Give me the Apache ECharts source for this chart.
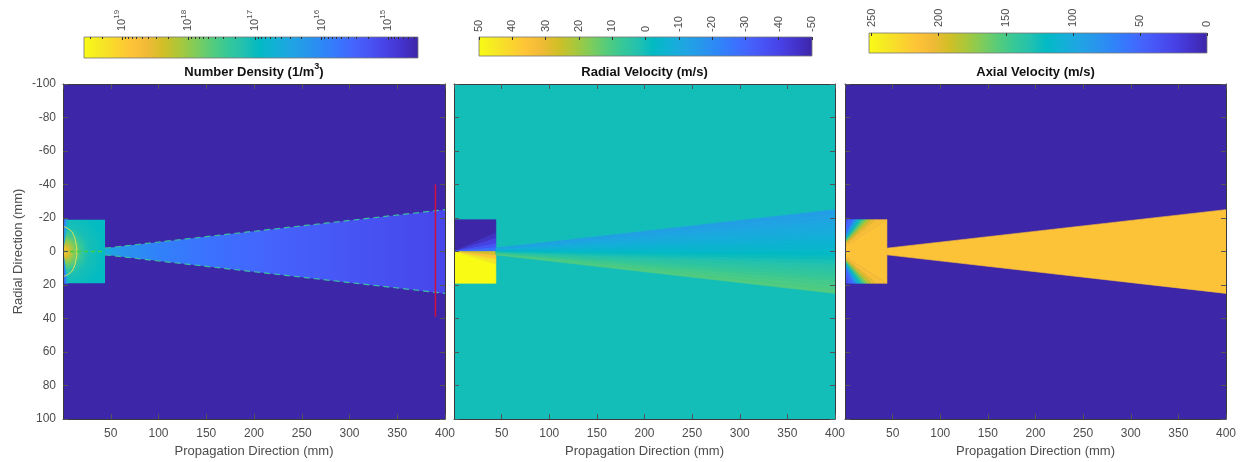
<!DOCTYPE html>
<html>
<head>
<meta charset="utf-8">
<script src="https://cdn.jsdelivr.net/npm/echarts@6/dist/echarts.min.js"></script>
<style>
html, body { margin: 0; padding: 0; background: #fff; }
#chart { width: 1244px; height: 462px; }
</style>
</head>
<body>
<div id="chart"></div>
<script>
// parula colormap, every 3rd entry of the 64 entry table
var parula = [
	[0.2422,0.1504,0.6603],[0.2647,0.1978,0.7952],[0.2783,0.2559,0.8991],[0.2810,0.3228,0.9579],
	[0.2699,0.3892,0.9906],[0.2206,0.4603,0.9973],[0.1786,0.5289,0.9682],[0.1540,0.5902,0.9218],
	[0.1248,0.6459,0.8883],[0.0689,0.6948,0.8394],[0.0067,0.7312,0.7660],[0.1408,0.7584,0.6842],
	[0.2161,0.7843,0.5923],[0.3406,0.8008,0.4789],[0.5044,0.7993,0.3480],[0.6720,0.7793,0.2227],
	[0.8203,0.7498,0.1535],[0.9393,0.7288,0.2100],[0.9970,0.7659,0.2199],[0.9786,0.8386,0.1766],
	[0.9597,0.9135,0.1423],[0.9769,0.9839,0.0805]
];

// axes
var xRange = [0, 400], yRange = [-100, 100];
var xStep = 50, yStep = 20;

// geometry (mm)
var nozzleX = [0, 44];
var nozzleY = [-19, 19];
var coneX = [44, 400];
var coneHalf = [2, 25];

// panel 1 : number density, log10(1/m^3)
var densityRange = [14.55, 19.57];
var densityTicks = [15, 16, 17, 18, 19];
var densityBg = 14.55;
var densityConeX = [44, 60, 100, 150, 220, 300, 400];
var densityConeLog = [16.6, 16.2, 15.9, 15.7, 15.5, 15.3, 15.1];
var densityNozzleR = [0, 3.5, 7, 11, 15, 25];
var densityNozzleLog = [18.85, 18.45, 17.9, 17.4, 17.1, 16.95];
var densityEdgeAngles = [-90, -82, -75, 75, 82, 90];
var densityEdgeLog = [15.6, 16.5, null, 16.5, 15.6];
var sonicArc = [[0,-15],[7,-13],[11,-10],[13.5,-5],[14.5,0],[13.5,5],[11,10],[7,13],[0,15]];
var centerDash = [[0,0],[44,0]];
var probeLine = [[390,-40],[390,39]];

// panel 2 : radial velocity (m/s)
var radialRange = [-50, 50];
var radialTicks = [50, 40, 30, 20, 10, 0, -10, -20, -30, -40, -50];
var radialBg = 0;
var radialFanAngles = [-90, -14, -10, -6, -3, 0, 3, 6, 10, 90];
var radialFanVel = [-50, -46, -41, -35, -28, 27, 36, 44, 50];
var radialConeFrac = [-1, -0.9, -0.8, -0.7, -0.6, -0.5, -0.4, -0.3, -0.2, -0.1, 0, 0.1, 0.2, 0.3, 0.4, 0.5, 0.6, 0.7, 0.8, 0.9, 1];
var radialConeVel = [-14, -13, -12, -11, -10, -9, -8, -6.5, -5.5, -4.5, -3, -1, 1, 3, 4.5, 6, 7.5, 9, 10, 11];

// panel 3 : axial velocity (m/s)
var axialRange = [0, 252];
var axialTicks = [250, 200, 150, 100, 50, 0];
var axialBg = 0;
var axialFanApex = [-8.4, 0];
var axialFanAngles = [-90, -58, -50, -46, -43, -40, -37, -34, -31, -28, -25, -20, 20, 25, 28, 31, 34, 37, 40, 43, 46, 50, 58, 90];
var axialFanVel = [35, 50, 65, 85, 105, 125, 145, 165, 185, 200, 210, 215, 210, 200, 185, 165, 145, 125, 105, 85, 65, 50, 35];
var axialConeVel = 215;

var titles = ['{t|Number Density (1/m}{s|3}{t|)}', '{t|Radial Velocity (m/s)}', '{t|Axial Velocity (m/s)}'];

var plotGrids = [
	{ left: 63, top: 84, width: 382, height: 335 },
	{ left: 454, top: 84, width: 381, height: 335 },
	{ left: 845, top: 84, width: 381, height: 335 }
];
var cbarGrids = [
	{ left: 84, top: 37, width: 334, height: 21 },
	{ left: 479, top: 37, width: 333, height: 19 },
	{ left: 869, top: 33, width: 338, height: 20 }
];

var FONT = 'Liberation Sans, Arial, Helvetica, sans-serif';
var GREY = '#4d4d4d';

function cmap(p) {
	p = Math.max(0, Math.min(1, p));
	var f = p * (parula.length - 1);
	var i = Math.min(Math.floor(f), parula.length - 2), t = f - i;
	var a = parula[i], b = parula[i + 1];
	var c = [0, 1, 2].map(function (k) { return Math.round(255 * (a[k] + (b[k] - a[k]) * t)); });
	return 'rgb(' + c.join(',') + ')';
}
function colorOf(v, range) { return cmap((v - range[0]) / (range[1] - range[0])); }

// fan band inside the nozzle box, seen from an apex on the axis
function rayHit(apex, deg) {
	var a = deg * Math.PI / 180, dx = Math.cos(a), dy = Math.sin(a);
	var t = Math.min(dx > 1e-9 ? (nozzleX[1] - apex[0]) / dx : Infinity, Math.abs(dy) > 1e-9 ? nozzleY[1] / Math.abs(dy) : Infinity);
	return [apex[0] + dx * t, apex[1] + dy * t];
}
function fanBand(apex, a, b) {
	var corner = Math.atan2(nozzleY[1], nozzleX[1] - apex[0]) * 180 / Math.PI;
	var pts = [apex, rayHit(apex, a)];
	if (-corner > a && -corner < b) pts.push([nozzleX[1], nozzleY[0]]);
	if (corner > a && corner < b) pts.push([nozzleX[1], nozzleY[1]]);
	pts.push(rayHit(apex, b));
	return pts;
}
function fanShapes(apex, angles, vals, range) {
	var out = [];
	for (var i = 0; i < vals.length; i++) {
		if (vals[i] == null) continue;
		var c = colorOf(vals[i], range);
		out.push({ pts: fanBand(apex, angles[i], angles[i + 1]), fill: c, stroke: c });
	}
	return out;
}
function conePts(f0, f1) {
	return [[coneX[0], f0 * coneHalf[0]], [coneX[1], f0 * coneHalf[1]], [coneX[1], f1 * coneHalf[1]], [coneX[0], f1 * coneHalf[0]]];
}
var boxPts = [[nozzleX[0], nozzleY[0]], [nozzleX[1], nozzleY[0]], [nozzleX[1], nozzleY[1]], [nozzleX[0], nozzleY[1]]];
var fullPts = [[xRange[0], yRange[0]], [xRange[1], yRange[0]], [xRange[1], yRange[1]], [xRange[0], yRange[1]]];

function shapeSeries(g, shapes, z) {
	return {
		type: 'custom', xAxisIndex: g * 2, yAxisIndex: g * 2, z: z, clip: true, silent: true,
		data: shapes.map(function (s, i) { return [i]; }),
		renderItem: function (params, api) {
			var s = shapes[params.dataIndex];
			var fill = typeof s.fill === 'function' ? s.fill(api) : s.fill;
			return {
				type: 'polygon',
				shape: { points: s.pts.map(function (p) { return api.coord(p); }) },
				style: { fill: fill, stroke: s.stroke || null, lineWidth: s.stroke ? 0.6 : 0 }
			};
		}
	};
}
function lineSeries(g, pts, color, type, width, z) {
	return {
		type: 'line', xAxisIndex: g * 2, yAxisIndex: g * 2, data: pts, z: z, silent: true,
		symbol: 'none', smooth: false, clip: true,
		lineStyle: { color: color, width: width, type: type }
	};
}

// ---------- panel 1
var densityStopsCone = densityConeX.map(function (x, i) {
	return { offset: (x - coneX[0]) / (coneX[1] - coneX[0]), color: colorOf(densityConeLog[i], densityRange) };
});
var densityStopsNozzle = densityNozzleR.map(function (r, i) {
	return { offset: r / densityNozzleR[densityNozzleR.length - 1], color: colorOf(densityNozzleLog[i], densityRange) };
});
var panel1 = [
	{ pts: fullPts, fill: colorOf(densityBg, densityRange) },
	{ pts: boxPts, fill: function (api) {
		var c = api.coord([0, 0]);
		var r = Math.abs(api.coord([0, densityNozzleR[densityNozzleR.length - 1]])[1] - c[1]);
		return new echarts.graphic.RadialGradient(c[0], c[1], r, densityStopsNozzle, true);
	} },
	{ pts: conePts(-1, 1), fill: new echarts.graphic.LinearGradient(0, 0, 1, 0, densityStopsCone) }
].concat(fanShapes([0, 0], densityEdgeAngles, densityEdgeLog, densityRange));

// ---------- panel 2
var panel2 = [{ pts: fullPts, fill: colorOf(radialBg, radialRange) }]
	.concat(fanShapes([0, 0], radialFanAngles, radialFanVel, radialRange));
for (var i = 0; i < radialConeVel.length; i++) {
	var c2 = colorOf(radialConeVel[i], radialRange);
	panel2.push({ pts: conePts(radialConeFrac[i], radialConeFrac[i + 1]), fill: c2, stroke: c2 });
}

// ---------- panel 3
var panel3 = [
	{ pts: fullPts, fill: colorOf(axialBg, axialRange) },
	{ pts: conePts(-1, 1), fill: colorOf(axialConeVel, axialRange), stroke: colorOf(axialConeVel, axialRange) }
].concat(fanShapes(axialFanApex, axialFanAngles, axialFanVel, axialRange));

// ---------- axes
var xAxes = [], yAxes = [], grids = [];
plotGrids.forEach(function (gr, g) {
	grids.push({ left: gr.left, top: gr.top, width: gr.width, height: gr.height, outerBoundsMode: 'none' });
	var tick = { show: true, inside: true, length: 5, lineStyle: { color: '#555', width: 1 } };
	var line = { show: true, onZero: false, lineStyle: { color: '#3a3a3a', width: 1 } };
	xAxes.push({
		gridIndex: g, type: 'value', min: xRange[0], max: xRange[1], interval: xStep, position: 'bottom', z: 10,
		axisLine: line, axisTick: tick, splitLine: { show: false },
		axisLabel: { showMinLabel: false, color: GREY, fontSize: 12, fontFamily: FONT, margin: 9 },
		name: 'Propagation Direction (mm)', nameLocation: 'middle', nameGap: 26,
		nameTextStyle: { color: GREY, fontSize: 13, fontFamily: FONT }
	});
	xAxes.push({
		gridIndex: g, type: 'value', min: xRange[0], max: xRange[1], interval: xStep, position: 'top', z: 10,
		axisLine: line, axisTick: tick, splitLine: { show: false }, axisLabel: { show: false }
	});
	yAxes.push({
		gridIndex: g, type: 'value', min: yRange[0], max: yRange[1], interval: yStep, inverse: true, position: 'left', z: 10,
		axisLine: line, axisTick: tick, splitLine: { show: false },
		axisLabel: { show: g === 0, color: GREY, fontSize: 12, fontFamily: FONT, margin: 7 },
		name: g === 0 ? 'Radial Direction (mm)' : '', nameLocation: 'middle', nameGap: 38,
		nameTextStyle: { color: GREY, fontSize: 13, fontFamily: FONT }
	});
	yAxes.push({
		gridIndex: g, type: 'value', min: yRange[0], max: yRange[1], interval: yStep, inverse: true, position: 'right', z: 10,
		axisLine: line, axisTick: tick, splitLine: { show: false }, axisLabel: { show: false }
	});
});

// colorbars
cbarGrids.forEach(function (gr) {
	grids.push({ left: gr.left, top: gr.top, width: gr.width, height: gr.height, outerBoundsMode: 'none' });
});
var cbLabel = { color: GREY, fontSize: 11, fontFamily: FONT, rotate: -90 };
var cbTick = { show: true, inside: true, length: 3, lineStyle: { color: '#333', width: 1 } };
var cbLine = { show: false, onZero: false };
var minorDensity = [];
for (var n = 14; n <= 19; n++) for (var k = 2; k <= 9; k++) {
	var lv = n + Math.log10(k);
	if (lv > densityRange[0] && lv < densityRange[1]) minorDensity.push(lv);
}
xAxes.push({
	gridIndex: 3, type: 'value', min: densityRange[0], max: densityRange[1], inverse: true, position: 'top', z: 10,
	axisLine: cbLine, splitLine: { show: false },
	axisTick: Object.assign({}, cbTick, { customValues: densityTicks }),
	axisLabel: Object.assign({}, cbLabel, { margin: 6, customValues: densityTicks,
		formatter: function (v) { return '{b|10}{e|' + Math.round(v) + '}'; },
		rich: { b: { fontSize: 11, lineHeight: 18, color: GREY, fontFamily: FONT }, e: { fontSize: 8, lineHeight: 8, verticalAlign: 'top', color: GREY, fontFamily: FONT } } })
});
xAxes.push({
	gridIndex: 3, type: 'value', min: densityRange[0], max: densityRange[1], inverse: true, position: 'top', z: 10,
	axisLine: cbLine, splitLine: { show: false }, axisLabel: { show: false },
	axisTick: Object.assign({}, cbTick, { length: 2, customValues: minorDensity })
});
xAxes.push({
	gridIndex: 4, type: 'value', min: radialRange[0], max: radialRange[1], inverse: true, position: 'top', z: 10,
	axisLine: cbLine, splitLine: { show: false },
	axisTick: Object.assign({}, cbTick, { customValues: radialTicks }),
	axisLabel: Object.assign({}, cbLabel, { margin: 5, customValues: radialTicks })
});
xAxes.push({
	gridIndex: 5, type: 'value', min: axialRange[0], max: axialRange[1], inverse: true, position: 'top', z: 10,
	axisLine: cbLine, splitLine: { show: false },
	axisTick: Object.assign({}, cbTick, { customValues: axialTicks }),
	axisLabel: Object.assign({}, cbLabel, { margin: 6, customValues: axialTicks })
});
[3, 4, 5].forEach(function (g) {
	yAxes.push({ gridIndex: g, type: 'value', min: 0, max: 1, show: false, axisLine: { onZero: false } });
});

var cbarStops = parula.map(function (c, i) {
	return { offset: i / (parula.length - 1), color: cmap(1 - i / (parula.length - 1)) };
});
function cbarSeries(xi, yi, range) {
	return {
		type: 'custom', xAxisIndex: xi, yAxisIndex: yi, silent: true, z: 1, data: [[0]],
		renderItem: function (params, api) {
			var a = api.coord([range[0], 0]), b = api.coord([range[1], 1]);
			return {
				type: 'rect',
				shape: { x: Math.min(a[0], b[0]), y: Math.min(a[1], b[1]), width: Math.abs(b[0] - a[0]), height: Math.abs(b[1] - a[1]) },
				style: { fill: new echarts.graphic.LinearGradient(0, 0, 1, 0, cbarStops), stroke: '#777', lineWidth: 0.8 }
			};
		}
	};
}

var series = [
	shapeSeries(0, panel1, 1),
	lineSeries(0, sonicArc, '#e2e25a', 'solid', 1, 3),
	lineSeries(0, centerDash, '#3fd04a', [4, 3], 1.5, 3),
	lineSeries(0, [[coneX[0], -coneHalf[0]], [coneX[1], -coneHalf[1]]], '#3cc0a4', [6, 4], 1.2, 3),
	lineSeries(0, [[coneX[0], coneHalf[0]], [coneX[1], coneHalf[1]]], '#3cc0a4', [6, 4], 1.2, 3),
	lineSeries(0, probeLine, '#d0103c', 'solid', 1.5, 4),
	shapeSeries(1, panel2, 1),
	shapeSeries(2, panel3, 1),
	cbarSeries(6, 6, densityRange),
	cbarSeries(8, 7, radialRange),
	cbarSeries(9, 8, axialRange)
];
series[1].smooth = true;

var centers = plotGrids.map(function (g) { return g.left + g.width / 2; });
var myChart = echarts.init(document.getElementById('chart'), null, { renderer: 'canvas' });
myChart.setOption({
	animation: false,
	textStyle: { fontFamily: FONT },
	title: titles.map(function (t, i) {
		return {
			text: t, left: centers[i], top: 62, textAlign: 'center', padding: 0,
			textStyle: { rich: {
				t: { fontSize: 13, fontWeight: 'bold', color: '#111', lineHeight: 20, fontFamily: FONT },
				s: { fontSize: 9, fontWeight: 'bold', color: '#111', lineHeight: 10, verticalAlign: 'top', fontFamily: FONT }
			} }
		};
	}),
	grid: grids,
	xAxis: xAxes,
	yAxis: yAxes,
	series: series
});
</script>
</body>
</html>
